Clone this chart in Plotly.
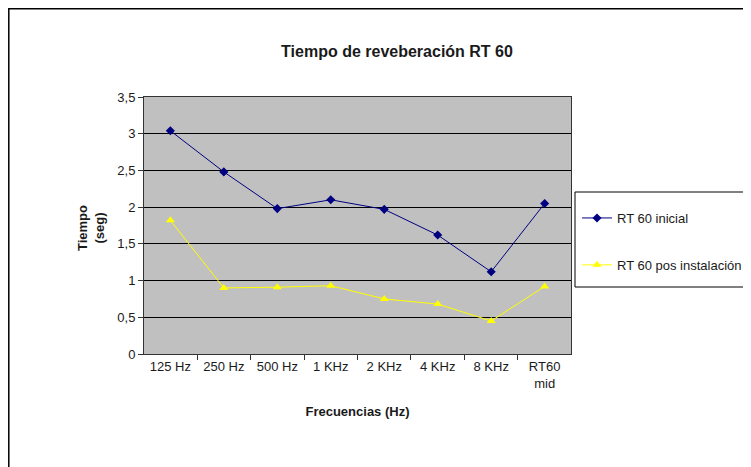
import plotly.graph_objects as go

categories = ["125 Hz", "250 Hz", "500 Hz", "1 KHz", "2 KHz", "4 KHz", "8 KHz", "RT60<br>mid"]
rt60_inicial = [3.04, 2.48, 1.98, 2.10, 1.97, 1.62, 1.12, 2.05]
rt60_pos = [1.82, 0.90, 0.91, 0.93, 0.75, 0.68, 0.45, 0.92]
y_ticks = [0, 0.5, 1, 1.5, 2, 2.5, 3, 3.5]
y_tick_labels = ["0", "0,5", "1", "1,5", "2", "2,5", "3", "3,5"]

FONT = "Liberation Sans, Arial, sans-serif"

fig = go.Figure()
fig.add_trace(go.Scatter(
    x=categories, y=rt60_inicial, name="RT 60 inicial", mode="lines+markers",
    line=dict(color="#000080", width=1), marker=dict(symbol="diamond", size=7, color="#000080"),
    legendgroup="a"))
fig.add_trace(go.Scatter(
    x=categories, y=rt60_pos, name="RT 60 pos instalación", mode="lines+markers",
    line=dict(color="#FFFF00", width=1), marker=dict(symbol="triangle-up", size=8, color="#FFFF00"),
    legendgroup="b"))

OFF = 8  # page body offset
W, H = 751 - OFF, 467 - OFF
# target page coordinates of plot area
PL, PR, PT, PB = 144, 571, 97, 354
L, T = PL - OFF, PT - OFF
R, B = W - (PR - OFF), H - (PB - OFF)
pw, ph = W - L - R, H - T - B

def px(x):
    return (x - PL) / pw

def py(y):
    return (PB - y) / ph

fig.update_layout(
    width=W, height=H,
    margin=dict(l=L, r=R, t=T, b=B, autoexpand=False),
    paper_bgcolor="white", plot_bgcolor="#C0C0C0",
    font=dict(family=FONT, size=13, color="#1a1a1a"),
    title=dict(text="<b>Tiempo de reveberación RT 60</b>", xref="container",
               x=(397 - OFF) / W, xanchor="center",
               yref="container", y=1 - (51 - OFF) / H, yanchor="middle",
               font=dict(size=16)),
    showlegend=True,
    legend=dict(x=px(577), y=py(203), xanchor="left", yanchor="top",
                borderwidth=0, bgcolor="rgba(0,0,0,0)",
                tracegroupgap=27, font=dict(size=13), itemwidth=30),
    xaxis=dict(
        tickson="boundaries", ticks="outside", ticklen=5, tickcolor="#333333",
        showline=True, linecolor="#333333", linewidth=1, mirror=True,
        showgrid=False, tickfont=dict(size=13),
        title=dict(text="<b>Frecuencias (Hz)</b>", font=dict(size=13), standoff=17),
    ),
    yaxis=dict(
        range=[0, 3.5], tickvals=y_ticks, ticktext=y_tick_labels,
        ticks="outside", ticklen=5, tickcolor="#333333",
        showline=True, linecolor="#333333", linewidth=1, mirror=True,
        showgrid=True, gridcolor="#000000", gridwidth=1, zeroline=False,
        tickfont=dict(size=13),
    ),
    annotations=[dict(
        text="<b>Tiempo<br>(seg)</b>", xref="paper", yref="paper",
        x=px(91), y=py(228), textangle=-90, showarrow=False,
        font=dict(size=13), xanchor="center", yanchor="middle")],
    shapes=[
        dict(type="rect", xref="paper", yref="paper",
             x0=px(8.8), x1=px(770), y0=py(8.8), y1=py(490),
             line=dict(color="#000000", width=1.5), layer="below"),
        dict(type="rect", xref="paper", yref="paper",
             x0=px(575), x1=px(751), y0=py(192), y1=py(287),
             line=dict(color="#000000", width=1), fillcolor="white", layer="below"),
    ],
)

fig.write_html("out.html")
